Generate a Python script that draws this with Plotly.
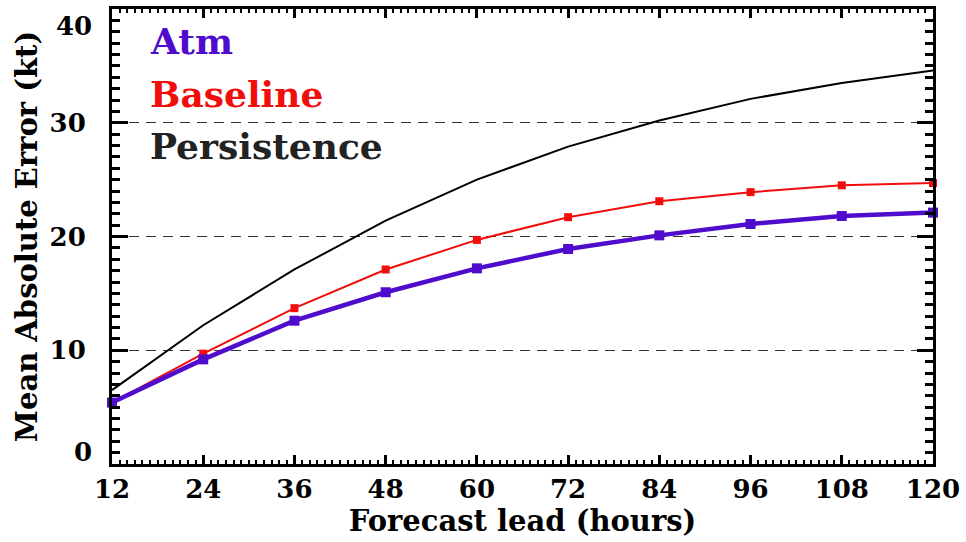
import plotly.graph_objects as go

# Forecast lead times (hours)
lead_hours = [12, 24, 36, 48, 60, 72, 84, 96, 108, 120]

# Mean absolute intensity error (kt) for each forecast
atm_mae = [5.4, 9.2, 12.6, 15.1, 17.2, 18.9, 20.1, 21.1, 21.8, 22.1]
baseline_mae = [5.4, 9.7, 13.7, 17.1, 19.7, 21.7, 23.1, 23.9, 24.5, 24.7]
persistence_mae = [6.5, 12.2, 17.1, 21.4, 25.0, 27.9, 30.2, 32.1, 33.5, 34.6]

# Y tick labels: interior ones drawn by the axis, the two end labels
# are nudged inward so they stay inside the frame height
y_inner_ticks = [10, 20, 30]
y_end_ticks = [0, 40]

ATM_COLOR = "#4f0ccc"
BASE_COLOR = "#f20d0d"
PERS_COLOR = "#000000"
FONT = "DejaVu Serif"
TICK_SIZE = 26

fig = go.Figure()

fig.add_trace(go.Scatter(
    x=lead_hours, y=persistence_mae, mode="lines",
    line=dict(color=PERS_COLOR, width=2), name="Persistence",
    cliponaxis=False,
))
fig.add_trace(go.Scatter(
    x=lead_hours, y=baseline_mae, mode="lines+markers",
    line=dict(color=BASE_COLOR, width=2),
    marker=dict(symbol="square", size=8, color=BASE_COLOR),
    name="Baseline", cliponaxis=False,
))
fig.add_trace(go.Scatter(
    x=lead_hours, y=atm_mae, mode="lines+markers",
    line=dict(color=ATM_COLOR, width=4.5),
    marker=dict(symbol="square", size=10, color=ATM_COLOR),
    name="Atm", cliponaxis=False,
))

# Legend written as coloured labels inside the plot
legend_items = [("Atm", ATM_COLOR), ("Baseline", BASE_COLOR), ("Persistence", "#222222")]
for i, (label, color) in enumerate(legend_items):
    fig.add_annotation(
        x=0.044, y=0.93 - i * 0.116, xref="paper", yref="paper",
        xanchor="left", yanchor="middle", showarrow=False,
        text=f"<b>{label}</b>",
        font=dict(family=FONT, size=36, color=color),
    )

# End labels of the y axis
for v in y_end_ticks:
    fig.add_annotation(
        x=0, xref="paper", y=v, yref="y",
        xanchor="right", yanchor="middle", xshift=-18,
        yshift=12 if v == 0 else -17, showarrow=False,
        text=f"<b>{v}</b>", font=dict(family=FONT, size=TICK_SIZE, color="black"),
    )

fig.update_layout(
    width=966, height=542,
    margin=dict(l=112, r=32, t=6, b=78),
    paper_bgcolor="white", plot_bgcolor="white",
    showlegend=False,
    font=dict(family=FONT, color="black"),
)

fig.update_xaxes(
    range=[12, 120], tickmode="linear", tick0=12, dtick=12,
    tickprefix="<b>", ticksuffix="</b>",
    tickfont=dict(family=FONT, size=TICK_SIZE),
    ticks="inside", ticklen=9, tickwidth=2.5, tickcolor="black",
    minor=dict(dtick=1, tick0=12, ticks="inside", ticklen=4, tickwidth=2, tickcolor="black", showgrid=False),
    showline=True, linewidth=3, linecolor="black", mirror="ticks",
    showgrid=False, zeroline=False,
    title=dict(text="<b>Forecast lead (hours)</b>", font=dict(family=FONT, size=29), standoff=2),
)

# Major ticks every 10 (labels only on interior values), minor every 1
fig.update_yaxes(
    range=[0, 40], tickmode="linear", tick0=0, dtick=10,
    tickprefix="<b>", ticksuffix="</b>",
    tickfont=dict(family=FONT, size=TICK_SIZE),
    ticks="inside", ticklen=16, tickwidth=2.5, tickcolor="black",
    minor=dict(dtick=1, tick0=0, ticks="inside", ticklen=8, tickwidth=2.5, tickcolor="black", showgrid=False),
    showline=True, linewidth=3, linecolor="black", mirror="ticks",
    showgrid=True, gridcolor="#333333", gridwidth=1, griddash="10px,7px",
    zeroline=False, ticklabelstandoff=18,
    labelalias={"<b>0</b>": " ", "<b>40</b>": " ", 0: " ", 40: " "},
    title=dict(text="<b>Mean Absolute Error (kt)</b>", font=dict(family=FONT, size=29), standoff=4),
)

fig.write_html("out.html")
